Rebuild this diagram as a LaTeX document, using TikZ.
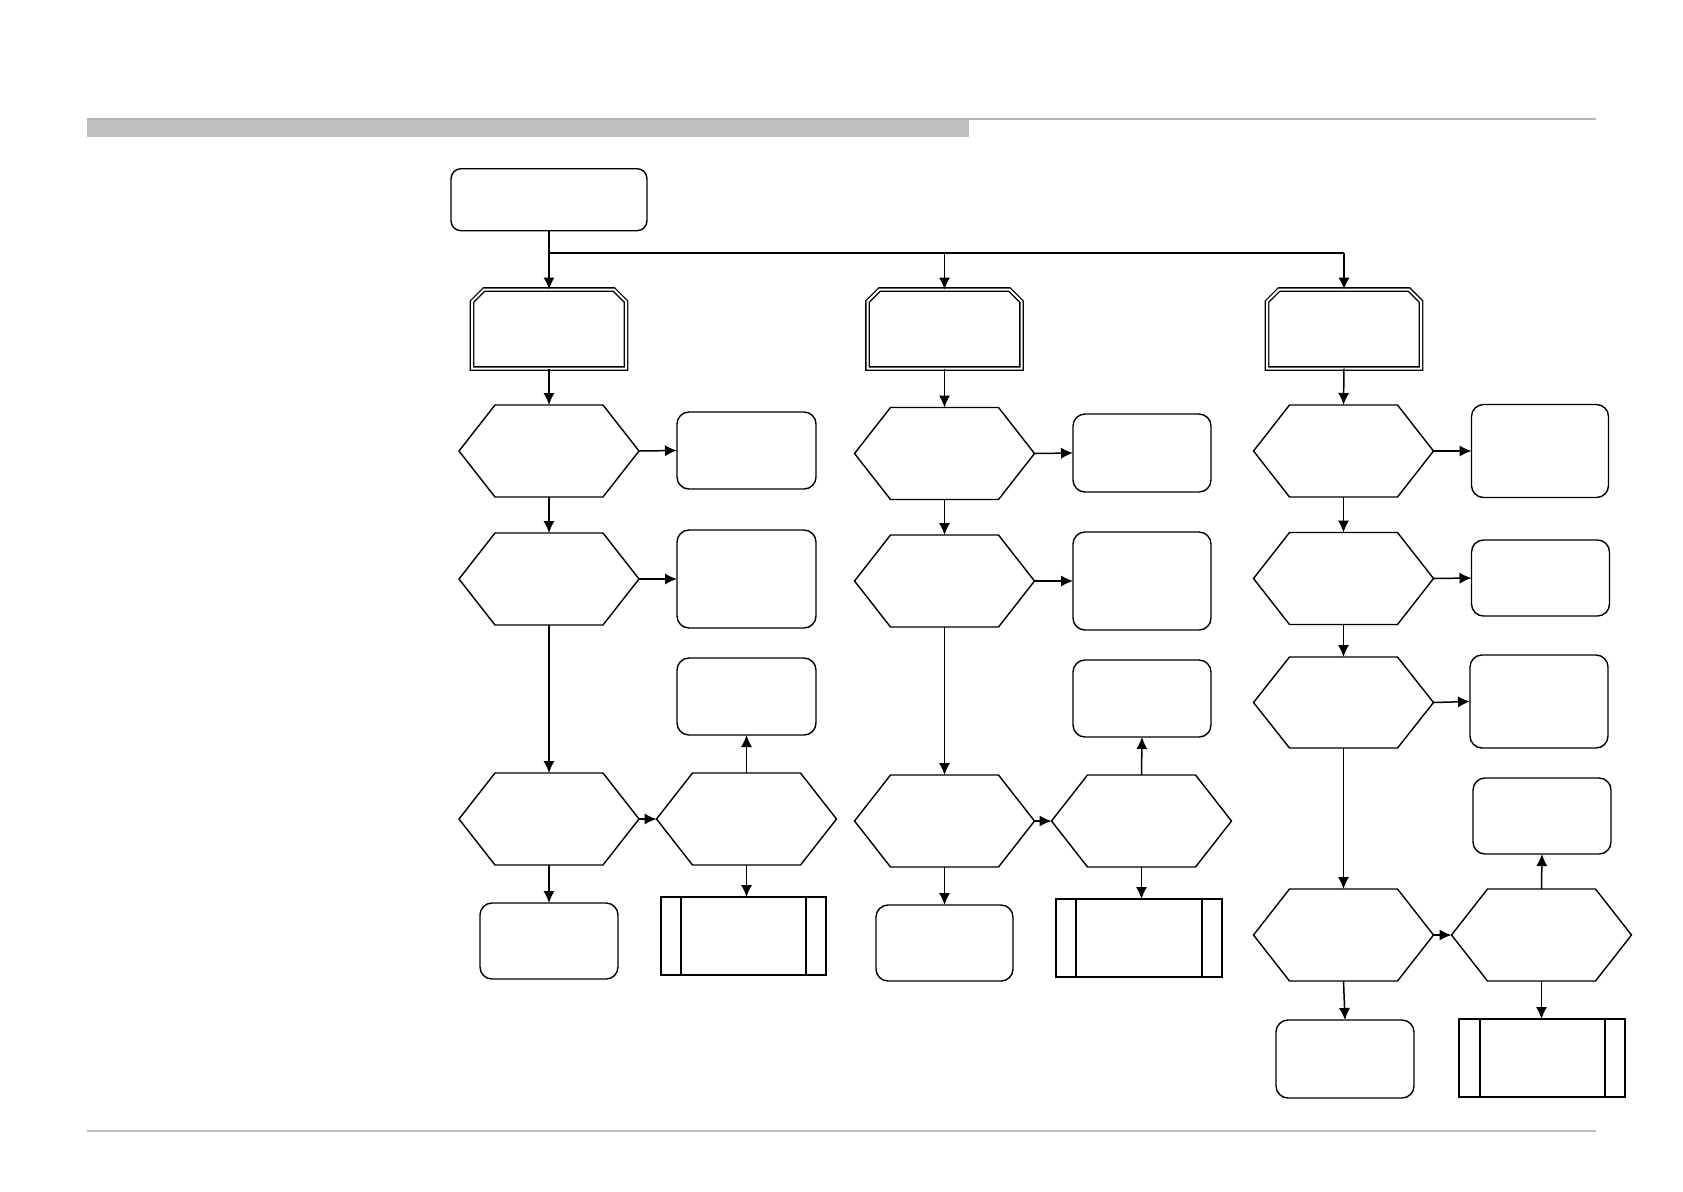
\documentclass[tikz,border=0pt]{standalone}
\usetikzlibrary{arrows.meta}
\begin{document}
\begin{tikzpicture}[x=0.5pt,y=-0.5pt,
  every node/.style={outer sep=0pt,inner sep=0pt},
  base/.style={draw=black,line width=0.7pt},
  rbox/.style={base,rectangle,rounded corners=6pt},
  hexa/.style={rectangle,minimum width=90pt,minimum height=46pt},
  hexline/.style={draw=black,line width=0.7pt,line join=miter},
  octa/.style={rectangle,minimum width=77pt,minimum height=39.5pt},
  octline/.style={draw=black,line width=0.65pt,double=white,double distance=1pt,line join=miter},
  pbox/.style={rectangle,minimum height=39pt},
  arr/.style={draw=black,line width=0.75pt,-{Latex[length=6pt,width=5.6pt]}},
  ln/.style={draw=black,line width=0.7pt}]
\useasboundingbox (0,0) rectangle (1683,1191);
% header and footer
\fill[fill={rgb,255:red,192;green,192;blue,192}] (87,119) rectangle (969,137);
\draw[draw={rgb,255:red,180;green,180;blue,180},line width=1pt] (87,119) -- (1596,119);
\draw[draw={rgb,255:red,190;green,190;blue,190},line width=0.9pt] (87,1131) -- (1596,1131);

% start
\node[rbox,rounded corners=5pt,minimum width=98pt,minimum height=31pt] (start) at (549,199.7) {};

% column 1
\node[octa] (oct1) at (549,329) {};
\node[hexa] (h1a) at (549,451) {};
\node[rbox,minimum width=69.5pt,minimum height=38.5pt] (r1a) at (746.5,450.5) {};
\node[hexa] (h1b) at (549,579) {};
\node[rbox,minimum width=69.5pt,minimum height=49pt] (r1b) at (746.5,579) {};
\node[rbox,minimum width=69.5pt,minimum height=38.5pt] (r1c) at (746.5,696.5) {};
\node[hexa] (h1c) at (549,819) {};
\node[hexa] (h1d) at (746.5,819) {};
\node[rbox,minimum width=69pt,minimum height=38pt] (r1d) at (549,941) {};
\node[pbox,draw=black,line width=0.6pt,minimum width=82.5pt] (p1) at (743.5,936) {};
\draw[line width=1.3pt] ([xshift=10pt]p1.north west) -- ([xshift=10pt]p1.south west);
\draw[line width=1.3pt] ([xshift=-10pt]p1.north east) -- ([xshift=-10pt]p1.south east);

% column 2
\node[octa] (oct2) at (944.5,329) {};
\node[hexa] (h2a) at (944.5,453.5) {};
\node[rbox,minimum width=69pt,minimum height=39pt] (r2a) at (1142,453) {};
\node[hexa] (h2b) at (944.5,581) {};
\node[rbox,minimum width=69pt,minimum height=49pt] (r2b) at (1142,581) {};
\node[rbox,minimum width=69pt,minimum height=38.5pt] (r2c) at (1142,698.5) {};
\node[hexa] (h2c) at (944.5,821) {};
\node[hexa] (h2d) at (1141.5,821) {};
\node[rbox,minimum width=68.5pt,minimum height=38pt] (r2d) at (944.5,943) {};
\node[pbox,draw=black,line width=1.2pt,minimum width=83pt] (p2) at (1139,938) {};
\draw[line width=0.6pt] ([xshift=10pt]p2.north west) -- ([xshift=10pt]p2.south west);
\draw[line width=0.6pt] ([xshift=-10pt]p2.north east) -- ([xshift=-10pt]p2.south east);

% column 3
\node[octa] (oct3) at (1344,329) {};
\node[hexa] (h3a) at (1343.5,451) {};
\node[rbox,minimum width=68.5pt,minimum height=46.5pt] (r3a) at (1540,451) {};
\node[hexa] (h3b) at (1343.5,578.5) {};
\node[rbox,minimum width=69pt,minimum height=38pt] (r3b) at (1540.5,578) {};
\node[hexa,minimum height=45.5pt] (h3c) at (1343.5,702.5) {};
\node[rbox,minimum width=69pt,minimum height=46.5pt] (r3c) at (1539,701.5) {};
\node[rbox,minimum width=69pt,minimum height=38pt] (r3d) at (1542,816) {};
\node[hexa] (h3d) at (1343.5,935) {};
\node[hexa] (h3e) at (1541.5,935) {};
\node[rbox,minimum width=69pt,minimum height=39pt] (r3e) at (1345,1059) {};
\node[pbox,draw=black,line width=1.2pt,minimum width=83pt] (p3) at (1542,1058) {};
\draw[line width=0.6pt] ([xshift=10.5pt]p3.north west) -- ([xshift=10.5pt]p3.south west);
\draw[line width=0.6pt] ([xshift=-10pt]p3.north east) -- ([xshift=-10pt]p3.south east);

% hexagon outlines
\foreach \n in {h1a,h1b,h1c,h1d,h2a,h2b,h2c,h2d,h3a,h3b,h3c,h3d,h3e}
  \draw[hexline] (\n.west) -- ([xshift=18pt]\n.north west) -- ([xshift=-18pt]\n.north east)
    -- (\n.east) -- ([xshift=-18pt]\n.south east) -- ([xshift=18pt]\n.south west) -- cycle;
% double-lined octagon outlines (top corners cut)
\foreach \n in {oct1,oct2,oct3}
  \draw[octline] (\n.south west) -- ([yshift=-6pt]\n.north west) -- ([xshift=6pt]\n.north west)
    -- ([xshift=-6pt]\n.north east) -- ([yshift=-6pt]\n.north east) -- (\n.south east) -- cycle;

% branching from start
\coordinate (br) at (549,253);
\coordinate (b2) at (oct2.north |- br);
\coordinate (b3) at (oct3.north |- br);
\draw[arr] (start.south) -- (oct1.north);
\draw[ln] (br) -- (b3);
\draw[arr] (b2) -- (oct2.north);
\draw[arr] (b3) -- (oct3.north);

% column 1 connectors
\draw[arr] (oct1.south) -- (h1a.north);
\draw[arr] (h1a.south) -- (h1b.north);
\draw[arr] (h1b.south) -- (h1c.north);
\draw[arr] (h1c.south) -- (r1d.north);
\draw[arr] (h1a.east) -- (r1a.west);
\draw[arr] (h1b.east) -- (r1b.west);
\draw[arr] (h1c.east) -- (h1d.west);
\draw[arr] (h1d.north) -- (r1c.south);
\draw[arr] (h1d.south) -- (h1d.south |- p1.north);

% column 2 connectors
\draw[arr] (oct2.south) -- (h2a.north);
\draw[arr] (h2a.south) -- (h2b.north);
\draw[arr] (h2b.south) -- (h2c.north);
\draw[arr] (h2c.south) -- (r2d.north);
\draw[arr] (h2a.east) -- (r2a.west);
\draw[arr] (h2b.east) -- (r2b.west);
\draw[arr] (h2c.east) -- (h2d.west);
\draw[arr] (h2d.north) -- (r2c.south);
\draw[arr] (h2d.south) -- (h2d.south |- p2.north);

% column 3 connectors
\draw[arr] (oct3.south) -- (h3a.north);
\draw[arr] (h3a.south) -- (h3b.north);
\draw[arr] (h3b.south) -- (h3c.north);
\draw[arr] (h3c.south) -- (h3d.north);
\draw[arr] (h3d.south) -- (r3e.north);
\draw[arr] (h3a.east) -- (r3a.west);
\draw[arr] (h3b.east) -- (r3b.west);
\draw[arr] (h3c.east) -- (r3c.west);
\draw[arr] (h3d.east) -- (h3e.west);
\draw[arr] (h3e.north) -- (r3d.south);
\draw[arr] (h3e.south) -- (h3e.south |- p3.north);
\end{tikzpicture}
\end{document}
